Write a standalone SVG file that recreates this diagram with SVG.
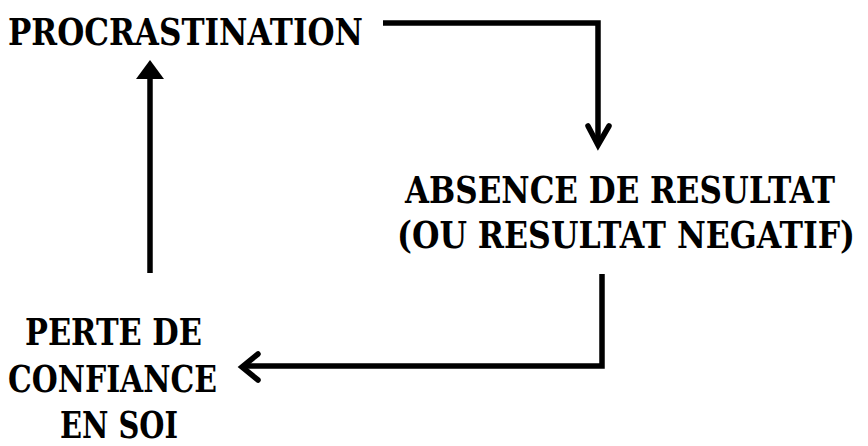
<svg xmlns="http://www.w3.org/2000/svg" width="868" height="446" viewBox="0 0 868 446">
<style>
.t{font-family:"DejaVu Serif","Liberation Serif",serif;font-weight:bold;font-size:32px;fill:#000}
.c{fill:none;stroke:#000;stroke-width:5.5;stroke-linejoin:miter;stroke-linecap:butt}
.h{fill:none;stroke:#000;stroke-width:5.5;stroke-linejoin:miter;stroke-linecap:round}
</style>
<rect width="868" height="446" fill="#fff"/>
<g id="node-procrastination">
<text class="t" transform="translate(8,45) scale(1,1.15)" textLength="355" lengthAdjust="spacingAndGlyphs">PROCRASTINATION</text>
</g>
<g id="node-absence">
<text class="t" transform="translate(405,203) scale(1,1.15)" textLength="430" lengthAdjust="spacingAndGlyphs">ABSENCE DE RESULTAT</text>
<text class="t" transform="translate(397,248) scale(1,1.15)" textLength="458" lengthAdjust="spacingAndGlyphs">(OU RESULTAT NEGATIF)</text>
</g>
<g id="node-perte">
<text class="t" transform="translate(25,345) scale(1,1.15)" textLength="177" lengthAdjust="spacingAndGlyphs">PERTE DE</text>
<text class="t" transform="translate(8,392) scale(1,1.15)" textLength="209" lengthAdjust="spacingAndGlyphs">CONFIANCE</text>
<text class="t" transform="translate(60,438) scale(1,1.15)" textLength="118" lengthAdjust="spacingAndGlyphs">EN SOI</text>
</g>
<g id="connectors">
<path class="c" d="M383,23 H598 V144"/>
<polyline class="h" points="588,126 598,145 609,126"/>
<path class="c" d="M602,274 V366 H244"/>
<polyline class="h" points="258,354 242,367 258,380"/>
<path class="c" d="M150,273 V76"/>
<polygon points="150,60 136,79 164,79" fill="#000"/>
</g>
</svg>
